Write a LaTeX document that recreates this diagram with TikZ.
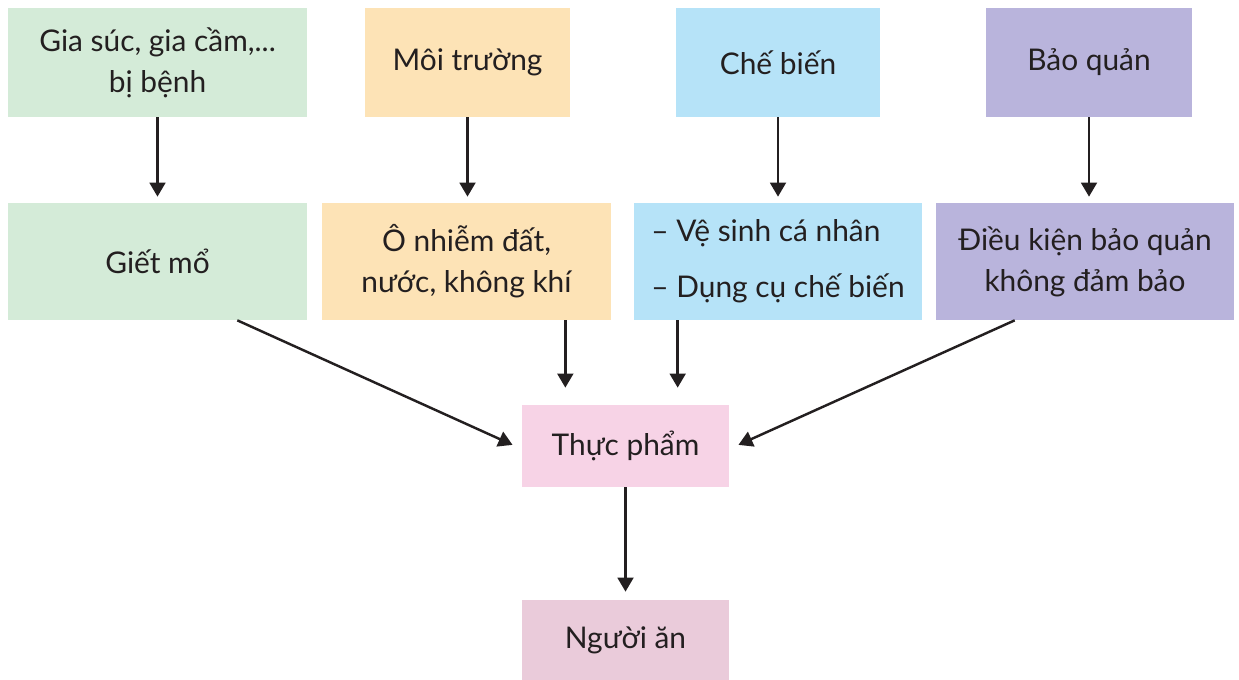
\documentclass[tikz,border=0pt]{standalone}
\usepackage{fontspec}
\setmainfont{Lato}
\usetikzlibrary{arrows.meta}
\definecolor{boxgreen}{HTML}{D4EBD8}
\definecolor{boxorange}{HTML}{FDE3B6}
\definecolor{boxblue}{HTML}{B6E3F8}
\definecolor{boxpurple}{HTML}{B9B4DC}
\definecolor{boxpink}{HTML}{F7D3E6}
\definecolor{boxrose}{HTML}{EACBDA}
\definecolor{ink}{HTML}{231F20}
\tikzset{
  box/.style={fill=#1, inner sep=0pt, align=center, text=ink,
    font=\fontsize{17}{23.5}\selectfont},
  arr/.style={draw=ink, line width=1.4pt, -{Triangle[width=9pt,length=8pt]}}
}

\begin{document}
\begin{tikzpicture}[x=0.02cm, y=-0.02cm]
\useasboundingbox (0,0) rectangle (1239,679);
% top row
\node[box=boxgreen, minimum width=5.98cm, minimum height=2.18cm] (cattle) at (157.5,62.5) {Gia súc, gia cầm,...\\bị bệnh};
\node[box=boxorange, minimum width=4.1cm, minimum height=2.18cm] (envir) at (467.5,62.5) {Môi trường};
\node[box=boxblue, minimum width=4.08cm, minimum height=2.18cm] (cook) at (778,62.5) {Chế biến};
\node[box=boxpurple, minimum width=4.12cm, minimum height=2.18cm] (store) at (1089,62.5) {Bảo quản};
% second row
\node[box=boxgreen, minimum width=5.98cm, minimum height=2.34cm] (slaugh) at (157.5,261.5) {Giết mổ};
\node[box=boxorange, minimum width=5.78cm, minimum height=2.34cm] (pollut) at (466.5,261.5) {Ô nhiễm đất,\\nước, không khí};
\node[box=boxblue, minimum width=5.76cm, minimum height=2.34cm, align=left,
  font=\fontsize{17}{32}\selectfont] (hyg) at (778,261.5) {– Vệ sinh cá nhân\\– Dụng cụ chế biến};
\node[box=boxpurple, minimum width=5.96cm, minimum height=2.34cm] (cond) at (1085,261.5) {Điều kiện bảo quản\\không đảm bảo};
% food and eater
\node[box=boxpink, minimum width=4.14cm, minimum height=1.64cm] (food) at (625.5,446) {Thực phẩm};
\node[box=boxrose, minimum width=4.14cm, minimum height=1.6cm] (eater) at (625.5,640) {Người ăn};

\foreach \a/\b in {cattle/slaugh, envir/pollut, cook/hyg, store/cond}
  \draw[arr, shorten >=0.12cm] (\a.south) -- (\a.south |- \b.north);

\coordinate (pout) at ([xshift=-0.92cm]pollut.south east);
\coordinate (hout) at ([xshift=0.88cm]hyg.south west);
\draw[arr, shorten >=0.34cm] (pout) -- (pout |- food.north);
\draw[arr, shorten >=0.34cm] (hout) -- (hout |- food.north);
\draw[arr, shorten >=0.2cm] ([xshift=-1.4cm]slaugh.south east) -- ([yshift=-0.06cm]food.west);
\draw[arr, shorten >=0.2cm] ([xshift=1.58cm]cond.south west) -- ([yshift=-0.06cm]food.east);
\draw[arr, shorten >=0.16cm] (food.south) -- (eater.north);
\end{tikzpicture}
\end{document}
